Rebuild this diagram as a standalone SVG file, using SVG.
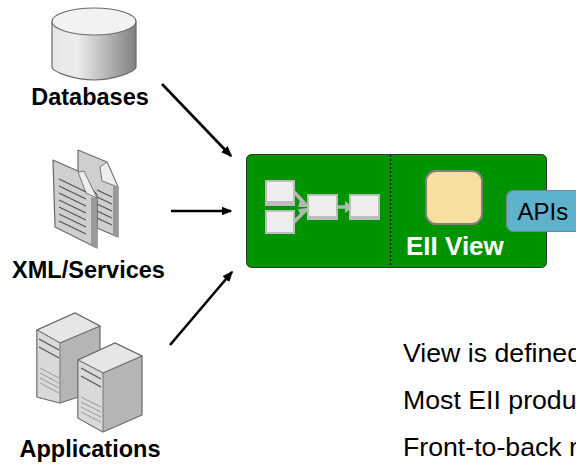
<svg xmlns="http://www.w3.org/2000/svg" width="576" height="465" viewBox="0 0 576 465">
<style>
text{font-family:"Liberation Sans",Arial,sans-serif}
.lab{font-weight:bold;font-size:23.500px;fill:#000;text-anchor:middle}
.body{font-size:26.700px;fill:#000}
.conn{stroke:#000;stroke-width:2.600;fill:none;marker-end:url(#ah)}
.out{stroke:#6a6a6a;stroke-width:1.200;stroke-linejoin:round}
.ln{stroke:#555;stroke-width:1.300;fill:none}
.box{fill:#eee;stroke:#bdbdbd;stroke-width:2}
.mini{stroke:#b5b5b5;stroke-width:3.500;fill:none}
</style>
<defs>
<marker id="ah" markerWidth="11" markerHeight="10" refX="9.500" refY="4.500" orient="auto" markerUnits="userSpaceOnUse" viewBox="0 0 11 9"><path d="M0 0L11 4.500L0 9Z" fill="#000"/></marker>
<linearGradient id="cyl" x1="0" x2="1" y1="0" y2="0"><stop offset="0" stop-color="#e6e6e6"/><stop offset=".3" stop-color="#ededed"/><stop offset="1" stop-color="#808080"/></linearGradient>
</defs>
<g id="databases">
<path class="out" d="M52 22V67C52 72 76 80 94 80C112 80 136 72 136 67V22Z" fill="url(#cyl)"/>
<ellipse class="out" cx="94" cy="21.500" rx="42" ry="13.500" fill="#f2f2f2"/>
<text class="lab" x="90" y="105">Databases</text>
</g>
<g id="xml-services">
<path class="out" d="M78 150L107 162L118 187V237L97 228V195L78 172Z" fill="#cfcfcf"/>
<path d="M100 167L107 162L118 187L102 181Z" fill="#eee" stroke="#777"/>
<path d="M113 186H118V237L113 235Z" fill="#999"/>
<path class="ln" d="M97 190L112 197M97 197L112 204M97 204L112 211M97 211L112 218M97 218L112 225"/>
<path class="out" d="M53 160L80 172L97 200V248L55 227Z" fill="#cfcfcf"/>
<path d="M78 172L84 171L97 198L86 193Z" fill="#eee" stroke="#777"/>
<path d="M91 197L97 199V248L91 246Z" fill="#999"/>
<path class="ln" d="M59 179L86 192M59 186L86 199M59 193L86 206M59 200L86 213M59 207L86 220M59 214L86 227M59 221L86 234"/>
<text class="lab" x="88.500" y="278">XML/Services</text>
</g>
<g id="applications">
<path class="out" d="M37 330L75 313L100 326V390L60 403L37 397Z" fill="#b5b5b5"/>
<path class="out" d="M37 330L75 313L100 326L60 343Z" fill="#e6e6e6"/>
<path d="M37 330L60 343V403L37 397Z" fill="#d9d9d9" stroke="#777"/>
<path class="ln" d="M39 339L59 350M39 347L59 358"/>
<path d="M40 368L59 378M40 373L59 383M40 378L59 388M40 383L59 393" stroke="#999" fill="none"/>
<path class="out" d="M78 360L115 343L142 356V415L103 432L78 418Z" fill="#b5b5b5"/>
<path class="out" d="M78 360L115 343L142 356L103 373Z" fill="#e6e6e6"/>
<path d="M78 360L103 373V432L78 418Z" fill="#d9d9d9" stroke="#777"/>
<path class="ln" d="M81 368L101 379M81 376L101 387"/>
<path d="M81 397L101 407M81 402L101 412M81 407L101 417M81 412L101 422" stroke="#999" fill="none"/>
<text class="lab" x="90" y="457">Applications</text>
</g>
<g id="eii-view">
<rect x="246.500" y="154.500" width="300" height="113" rx="5" fill="#009300" stroke="#333" stroke-width="1"/>
<path d="M390.500 155V267" stroke="#111" stroke-width="1.300" stroke-dasharray="2 2"/>
<path class="mini" d="M294 192L307 206M294 222L307 209M338 207H350"/>
<path d="M345 201L353 207L345 213Z" fill="#b5b5b5"/>
<path d="M301 197L308 207L298 207Z" fill="#b5b5b5"/>
<path d="M301 216L308 208L298 209Z" fill="#b5b5b5"/>
<rect class="box" x="266" y="181" width="28" height="24"/>
<rect x="266" y="201" width="28" height="4" fill="#bdbdbd"/>
<rect class="box" x="266" y="211" width="28" height="22"/>
<rect class="box" x="308" y="195" width="29" height="24"/>
<rect x="308" y="216" width="29" height="3" fill="#bdbdbd"/>
<rect class="box" x="350" y="195" width="29" height="24"/>
<rect x="350" y="216" width="29" height="3" fill="#bdbdbd"/>
<rect x="426" y="171" width="56" height="53" rx="10" fill="#f8dfa0" stroke="#7f7f7f" stroke-width="2"/>
<text x="406" y="255" font-weight="bold" font-size="26" fill="#fff">EII View</text>
</g>
<g id="apis">
<rect x="506.500" y="190.500" width="80" height="41" rx="7" fill="#5cb3cb" stroke="#6f8a94" stroke-width="1.200"/>
<text x="517.500" y="220" font-size="24" fill="#000">APIs</text>
</g>
<g id="connectors">
<path class="conn" d="M162 84L231 156"/>
<path class="conn" d="M171 211H231"/>
<path class="conn" d="M170 345L232 272"/>
</g>
<text class="body" x="403" y="362">View is defined</text>
<text class="body" x="403" y="409">Most EII produ</text>
<text class="body" x="403" y="456">Front-to-back r</text>
</svg>
